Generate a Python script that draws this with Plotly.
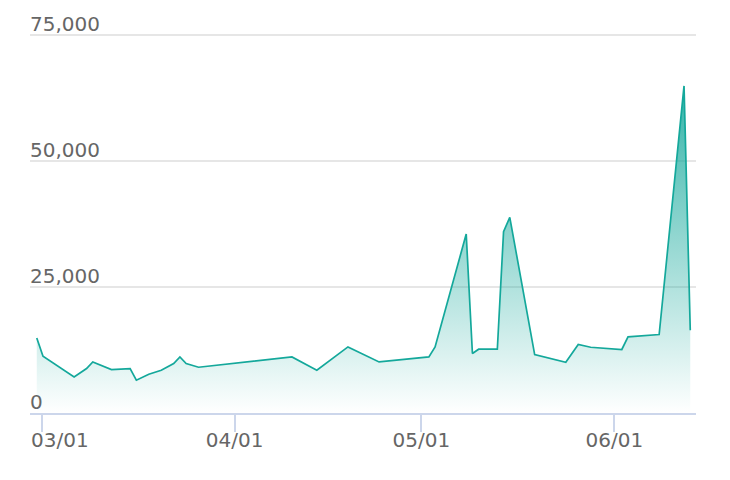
import plotly.graph_objects as go

dates = [
    "2020-02-29", "2020-03-01", "2020-03-06", "2020-03-08", "2020-03-09",
    "2020-03-12", "2020-03-15", "2020-03-16", "2020-03-18", "2020-03-20",
    "2020-03-22", "2020-03-23", "2020-03-24", "2020-03-26", "2020-04-10",
    "2020-04-14", "2020-04-19", "2020-04-24", "2020-05-02", "2020-05-03",
    "2020-05-08", "2020-05-09", "2020-05-10", "2020-05-13", "2020-05-14",
    "2020-05-15", "2020-05-19", "2020-05-24", "2020-05-26", "2020-05-28",
    "2020-06-02", "2020-06-03", "2020-06-08", "2020-06-12", "2020-06-13",
]
values = [
    14900, 11270, 7150, 8820, 10130,
    8620, 8820, 6500, 7690, 8480,
    9810, 11130, 9810, 9080, 11130,
    8480, 13110, 10130, 11130, 13110,
    35500, 11800, 12660, 12660, 35960,
    38830, 11600, 10070, 13590, 13050,
    12600, 15100, 15580, 64900, 16430,
]
tick_vals = ["2020-03-01", "2020-04-01", "2020-05-01", "2020-06-01"]
tick_text = ["03/01", "04/01", "05/01", "06/01"]
y_ticks = [0, 25000, 50000, 75000]
y_tick_text = ["0", "25,000", "50,000", "75,000"]

x_times = [d + " 05:00" for d in dates]
# the first label is drawn left-aligned at its tick (kept inside the plot), like the reference
x_labels = [""] + tick_text[1:]

fig = go.Figure()
fig.add_trace(go.Scatter(
    x=x_times, y=values, mode="lines", fill="tozeroy",
    line=dict(color="#14a89b", width=1.7),
    fillgradient=dict(
        type="vertical", start=0, stop=75000,
        colorscale=[[0, "rgba(20,168,155,0)"], [1, "rgba(20,168,155,1)"]],
    ),
    hoverinfo="skip", showlegend=False,
))

fig.add_annotation(
    x=tick_vals[0], xref="x", y=0, yref="paper",
    text=tick_text[0], showarrow=False,
    xanchor="left", yanchor="middle", xshift=-13, yshift=-27,
    font=dict(family="DejaVu Sans", size=20, color="#666666"),
)

fig.update_layout(
    width=730, height=480,
    margin=dict(l=30, r=34, t=30, b=67),
    paper_bgcolor="white", plot_bgcolor="white",
    font=dict(family="DejaVu Sans", color="#666666", size=20),
    xaxis=dict(
        type="date", range=["2020-02-28 02:53", "2020-06-14 03:07"],
        tickvals=tick_vals, ticktext=x_labels, automargin=False,
        showgrid=False, zeroline=False,
        showline=True, linecolor="#ccd6eb", linewidth=1.5,
        ticks="outside", ticklen=17, tickcolor="#ccd6eb", tickwidth=1.5,
        tickfont=dict(size=20, color="#666666"),
        ticklabeloverflow="allow", ticklabelstandoff=-9,
    ),
    yaxis=dict(
        range=[0, 76000], tickvals=y_ticks, ticktext=y_tick_text,
        automargin=False,
        ticklabelposition="inside top", ticks="",
        showgrid=True, gridcolor="#e6e6e6", gridwidth=1.5,
        zeroline=False, showline=False,
        tickfont=dict(size=20, color="#666666"),
        ticklabeloverflow="allow", ticklabelstandoff=-3, ticklabelshift=3,
    ),
)

fig.write_html("out.html")
